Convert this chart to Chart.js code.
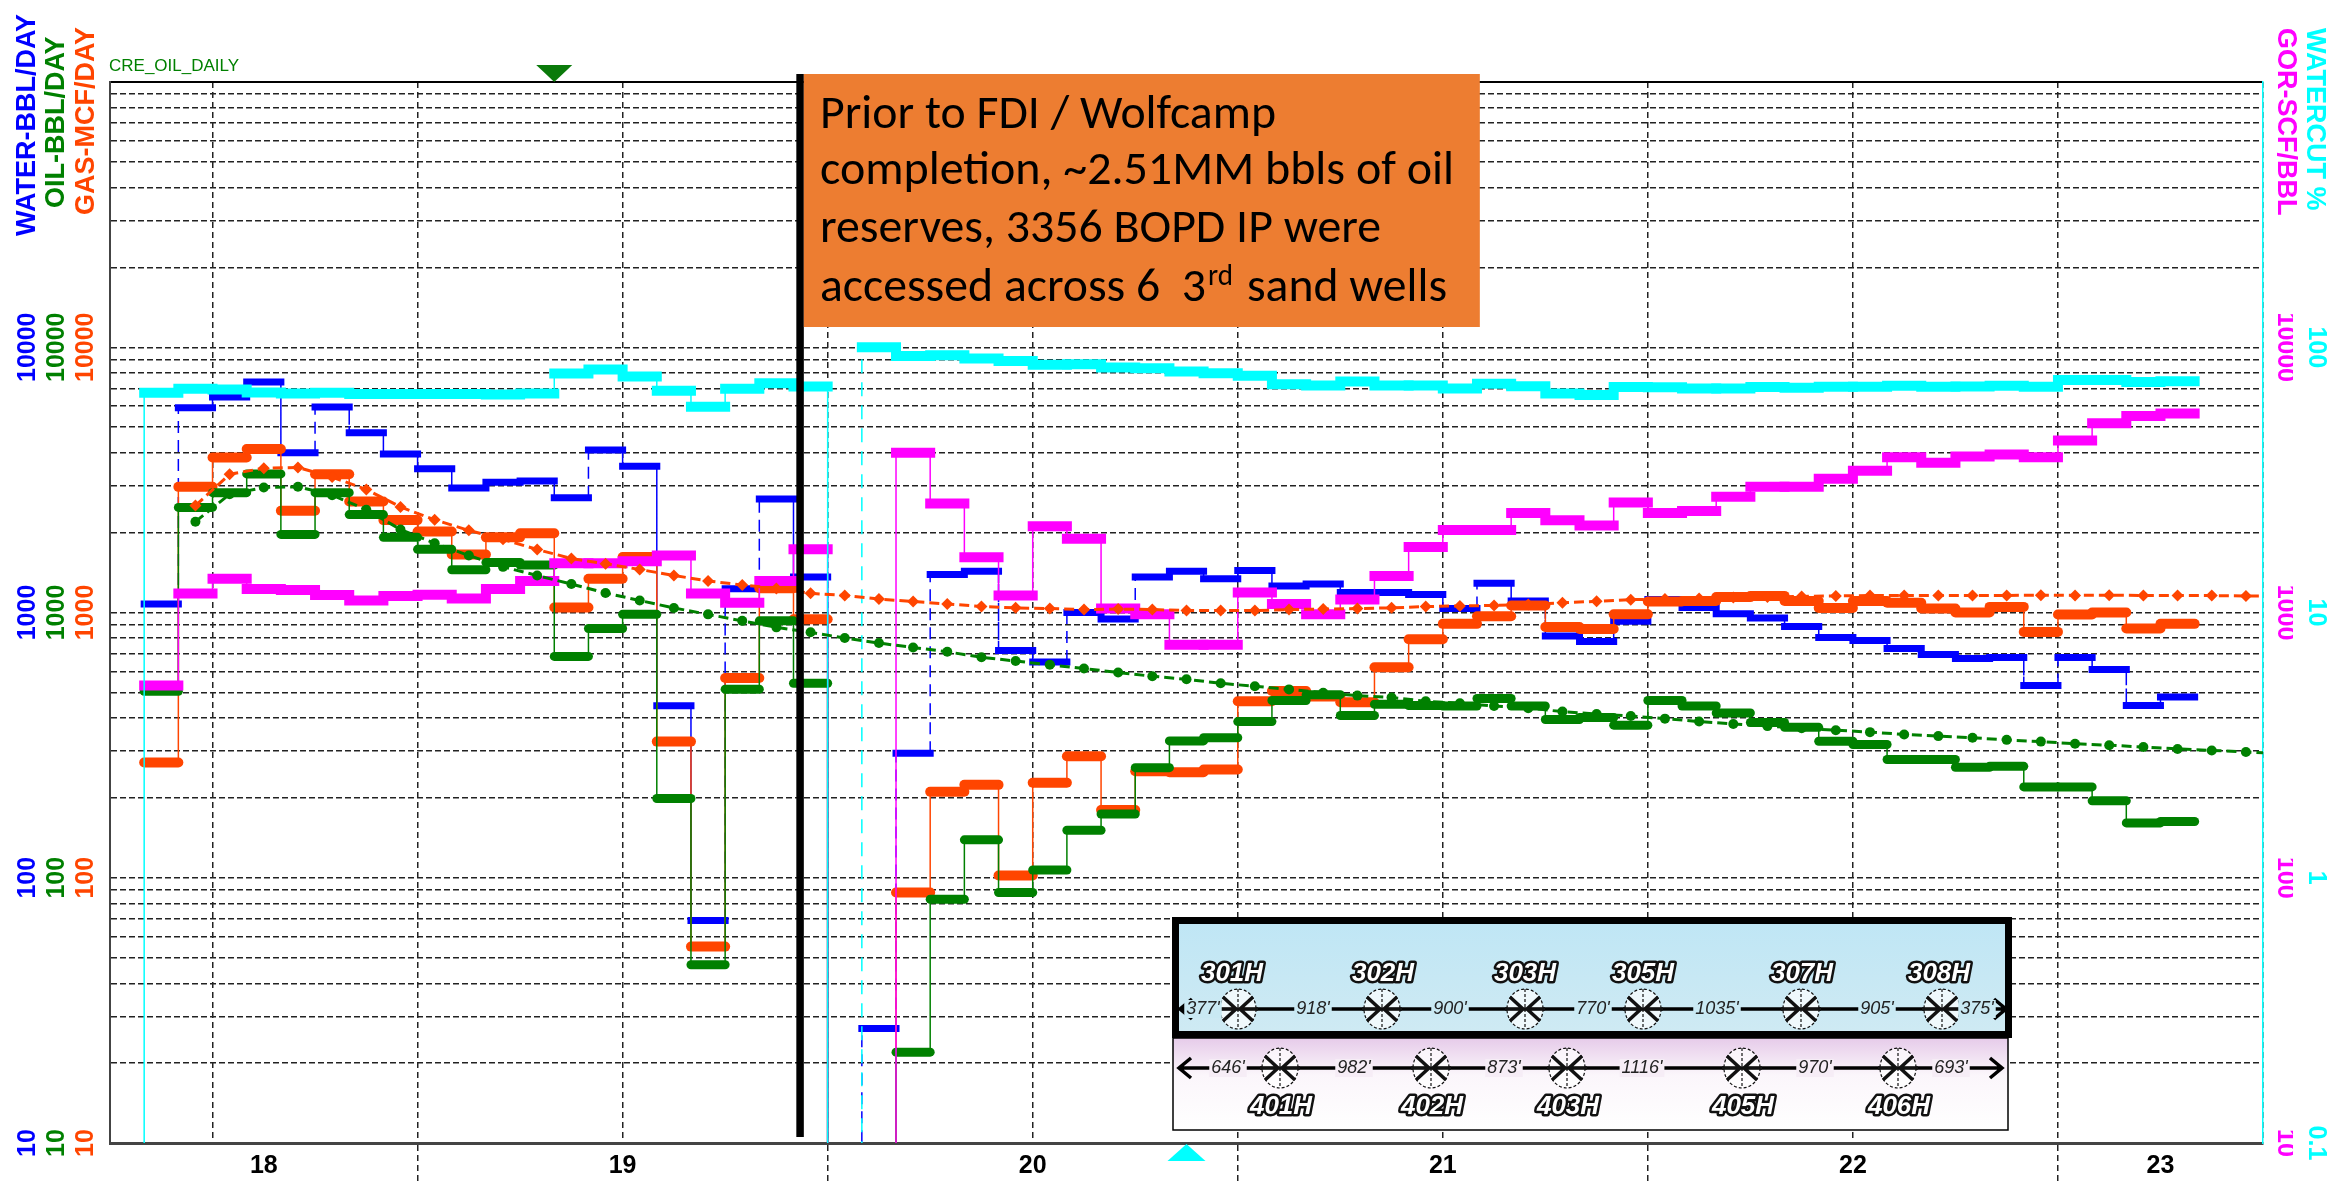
<!DOCTYPE html>
<html>
<head>
<meta charset="utf-8">
<style>
  html, body { margin: 0; padding: 0; background: #fff; }
  canvas { display: block; }
</style>
<script src="https://cdn.jsdelivr.net/npm/chart.js@4/dist/chart.umd.min.js"></script>
</head>
<body>
<canvas id="prodChart" width="2343" height="1182"></canvas>
<script>
// x is months since Jan 2018. BELOW = no production, off the bottom of the log axis
const BELOW = 1;
const BELOW_WC = 0.01;
const firstMonth = 4;

const water = [1076,5920,6490,7400,4000,5950,4760,3960,3480,2950,3100,3130,2710,4100,3560,445,69,1230,2680,1360,
  BELOW,27,295,1390,1430,719,650,1000,946,1360,1430,1340,1440,1260,1280,1190,1190,1170,1035,1290,
  1105,815,777,927,1120,1045,990,953,886,805,784,732,695,671,677,531,677,610,446,480];
const oil = [505,2490,2830,3330,1970,2830,2340,1920,1730,1450,1545,1510,683,870,984,199,47,514,930,541,
  BELOW,BELOW,22,83,139,88,107,151,174,260,328,337,388,466,490,409,451,446,444,474,
  444,395,402,376,466,444,418,385,369,327,318,279,279,261,263,220,220,195,161,163];
const gas = [272,2976,3840,4135,2420,3320,2620,2230,2020,1655,1920,1990,1045,1340,1620,326,55,566,1235,943,
  BELOW,BELOW,88,211,224,102,228,287,180,252,250,256,463,506,482,459,622,793,906,968,
  1063,882,867,984,1100,1105,1143,1155,1105,1040,1105,1088,1035,1000,1050,845,983,1000,870,906];
const gor = [531,1180,1340,1227,1215,1163,1110,1155,1167,1130,1227,1315,1535,1535,1562,1640,1180,1088,1315,1730,
  BELOW,BELOW,4000,2576,1615,1160,2113,1895,1035,984,755,755,1190,1077,984,1120,1373,1766,2045,2045,
  2374,2228,2128,2600,2374,2414,2730,2976,2976,3190,3420,3846,3670,3870,3945,3846,4450,5170,5500,5630];
// watercut starts one month earlier so its line rises from the bottom axis
const watercut = [BELOW_WC,67.4,69.7,69.3,67.5,66.9,67.4,66.7,66.7,66.7,66.7,66.3,66.9,79.6,82.4,77.6,68.5,59.6,69.7,73.2,71.1,
  BELOW_WC,100,92.7,93.3,90.7,88.8,85.9,86.2,83.9,83.4,81,79.8,78,72.5,71.8,74.3,71.8,71.8,69.9,72.8,
  71.3,66.9,66.1,70.8,70.6,69.9,69.9,70.8,70.4,71,71,71.6,71,71.2,71.6,71,75.2,75.2,74,74.5];

const fcastMonths = [5.5,6.5,7.5,8.5,9.5,10.5,11.5,12.5,13.5,14.5,15.5,16.5,17.5,18.5,19.5,20.5,21.5,22.5,23.5,24.5,
  25.5,26.5,27.5,28.5,29.5,30.5,31.5,32.5,33.5,34.5,35.5,36.5,37.5,38.5,39.5,40.5,41.5,42.5,43.5,44.5,
  45.5,46.5,47.5,48.5,49.5,50.5,51.5,52.5,53.5,54.5,55.5,56.5,57.5,58.5,59.5,60.5,61.5,62.5,63.5,64.5,65.5,66];
const gasFcast = [2530,3320,3500,3520,3240,2910,2500,2236,2040,1888,1728,1598,1526,1453,1379,1315,1270,1231,1181,1159,
  1124,1100,1077,1053,1041,1035,1026,1030,1026,1017,1017,1017,1026,1030,1035,1041,1053,1059,1063,1072,
  1088,1102,1118,1124,1130,1139,1143,1150,1155,1158,1160,1160,1160,1160,1162,1160,1162,1160,1160,1158,1155,1155];
const oilFcast = [2200,2790,2960,2980,2770,2440,2056,1825,1640,1486,1379,1280,1185,1110,1040,984,930,879,842,801,
  767,738,711,678,656,635,615,594,575,560,541,527,513,498,486,478,463,455,444,436,
  423,414,407,398,388,380,373,366,360,354,347,342,337,331,326,320,316,311,306,302,298,296];

const gridMonths = [6,12,18,24,30,36,42,48,54,60,66];
const yearEnds = [12,24,36,48,60];
const yearLabelMonths = [7.5,18,30,42,54,63];
const yearLabels = ['18','19','20','21','22','23'];
const yGridValues = [10,20,30,40,50,60,70,80,90,100,200,300,400,500,600,700,800,900,
  1000,2000,3000,4000,5000,6000,7000,8000,9000,10000,20000,30000,40000,50000,60000,70000,80000,90000,100000];
const rateTicks = [10,100,1000,10000];
const wcTicks = [0.1,1,10,100];

const completionMonth = 23.2;
const oilMarkerMonth = 16;
const waterMarkerMonth = 34.5;
const wcDashedRise = 25;

const BLUE = '#0000FF', GREEN = '#008000', ORANGE = '#FF4500', MAGENTA = '#FF00FF', CYAN = '#00FFFF';

function stepPoints(vals, start) {
  const pts = [];
  vals.forEach((v, i) => {
    pts.push({ x: start + i, y: v });
    pts.push({ x: start + i + 1, y: v });
  });
  return pts;
}

function stepSet(label, vals, start, axis, color, thick, cap, connectorDash, order) {
  return {
    label: label,
    data: stepPoints(vals, start),
    yAxisID: axis,
    borderColor: color,
    borderWidth: 1.5,
    pointRadius: 0,
    order: order,
    segment: {
      borderWidth: c => c.p0.parsed.x !== c.p1.parsed.x ? thick : 1.5,
      borderDash: c => c.p0.parsed.x !== c.p1.parsed.x ? [] : connectorDash(c),
      borderCapStyle: c => c.p0.parsed.x !== c.p1.parsed.x ? cap : 'butt'
    }
  };
}

function fcastSet(label, xs, vals, axis, color, style, radius, order) {
  return {
    label: label,
    data: xs.map((x, i) => ({ x: x, y: vals[i] })),
    yAxisID: axis,
    borderColor: color,
    backgroundColor: color,
    borderWidth: 3,
    borderDash: [10, 5],
    pointStyle: style,
    pointRadius: c => c.parsed.x === 66 ? 0 : radius,
    pointBorderWidth: 0,
    order: order
  };
}

function rateAxis(color, weight, width, padding, ticksList, min, max, rotation) {
  return {
    type: 'logarithmic',
    position: rotation < 0 ? 'right' : 'left',
    min: min,
    max: max,
    weight: weight,
    grid: { display: false, drawTicks: false },
    border: { display: false },
    afterBuildTicks: axis => { axis.ticks = ticksList.map(v => ({ value: v })); },
    afterFit: axis => { axis.width = width; },
    ticks: {
      autoSkip: false,
      color: color,
      font: { family: 'Liberation Sans', size: 25, weight: 'bold' },
      crossAlign: 'center',
      minRotation: rotation,
      maxRotation: rotation,
      padding: padding,
      callback: v => String(v)
    }
  };
}

// gas is the axis next to the plot, so it also carries the horizontal grid
const yGasAxis = rateAxis(ORANGE, 1, 43, -11, yGridValues, 10, 100000, 90);
yGasAxis.ticks.callback = v => rateTicks.includes(v) ? String(v) : '';
yGasAxis.grid = {
  display: true,
  drawTicks: false,
  color: c => c.tick.value === 100000 ? '#000' : '#222',
  lineWidth: c => c.tick.value === 10 ? 0 : (c.tick.value === 100000 ? 2 : 1.5)
};
yGasAxis.border = {
  display: true,
  color: '#444',
  width: 2,
  dash: c => (c.tick && c.tick.value === 100000) ? [] : [6, 3]
};

const yGorAxis = rateAxis(MAGENTA, 1, 30, -13, rateTicks, 10, 100000, -90);
yGorAxis.border = { display: true, color: CYAN, width: 1.5 };

function textAt(ctx, text, x, y, font, color, angle, align) {
  ctx.save();
  ctx.translate(x, y);
  if (angle) ctx.rotate(angle);
  ctx.font = font;
  ctx.fillStyle = color;
  ctx.textAlign = align || 'left';
  ctx.textBaseline = 'middle';
  ctx.fillText(text, 0, 0);
  ctx.restore();
}

function drawWell(ctx, cx, cy) {
  ctx.save();
  ctx.fillStyle = 'rgba(255,255,255,0.7)';
  ctx.strokeStyle = '#111';
  ctx.lineWidth = 1.2;
  ctx.setLineDash([3, 2]);
  ctx.beginPath();
  ctx.ellipse(cx, cy, 18, 20, 0, 0, Math.PI * 2);
  ctx.fill();
  ctx.stroke();
  ctx.beginPath();
  ctx.moveTo(cx, cy - 20);
  ctx.lineTo(cx, cy + 20);
  ctx.stroke();
  ctx.setLineDash([]);
  ctx.lineWidth = 3.5;
  ctx.beginPath();
  ctx.moveTo(cx - 15, cy - 12); ctx.lineTo(cx - 2, cy); ctx.lineTo(cx - 15, cy + 12);
  ctx.moveTo(cx + 15, cy - 12); ctx.lineTo(cx + 2, cy); ctx.lineTo(cx + 15, cy + 12);
  ctx.moveTo(cx - 20, cy); ctx.lineTo(cx + 20, cy);
  ctx.stroke();
  ctx.restore();
}

function drawWellRow(ctx, y, x0, x1, wells, dists, bg) {
  ctx.save();
  ctx.strokeStyle = '#000';
  ctx.lineWidth = 3.5;
  ctx.beginPath();
  ctx.moveTo(x0, y); ctx.lineTo(x1, y);
  ctx.moveTo(x0 + 12, y - 10); ctx.lineTo(x0, y); ctx.lineTo(x0 + 12, y + 10);
  ctx.moveTo(x1 - 12, y - 10); ctx.lineTo(x1, y); ctx.lineTo(x1 - 12, y + 10);
  ctx.stroke();
  wells.forEach(w => drawWell(ctx, w, y));
  ctx.font = 'italic 18px "Liberation Sans Narrow", "Liberation Sans"';
  ctx.textAlign = 'center';
  ctx.textBaseline = 'middle';
  dists.forEach(d => {
    const w = ctx.measureText(d[0]).width + 4;
    ctx.fillStyle = bg;
    ctx.fillRect(d[1] - w / 2, y - 9, w, 18);
    ctx.fillStyle = '#222';
    ctx.fillText(d[0], d[1], y);
  });
  ctx.restore();
}

function wellName(ctx, text, x, y) {
  ctx.save();
  ctx.font = 'italic bold 26px "Liberation Sans"';
  ctx.textAlign = 'center';
  ctx.textBaseline = 'middle';
  ctx.lineJoin = 'round';
  ctx.strokeStyle = '#111';
  ctx.lineWidth = 5;
  ctx.strokeText(text, x, y);
  ctx.fillStyle = '#fff';
  ctx.fillText(text, x, y);
  ctx.restore();
}

const overlays = {
  id: 'overlays',
  afterDraw(chart) {
    const ctx = chart.ctx;
    const xs = chart.scales.x;

    // rotated left and right axis titles
    const boldTitle = 'bold 27px "Liberation Sans"';
    textAt(ctx, 'WATER-BBL/DAY', 28, 236, boldTitle, BLUE, -Math.PI / 2);
    textAt(ctx, 'OIL-BBL/DAY', 57, 208, boldTitle, GREEN, -Math.PI / 2);
    textAt(ctx, 'GAS-MCF/DAY', 87, 215, boldTitle, ORANGE, -Math.PI / 2);
    textAt(ctx, 'GOR-SCF/BBL', 2285, 28, boldTitle, MAGENTA, Math.PI / 2);
    textAt(ctx, 'WATERCUT %', 2314, 28, boldTitle, CYAN, Math.PI / 2);
    textAt(ctx, 'CRE_OIL_DAILY', 109, 66, '17px "Liberation Sans Narrow", "Liberation Sans"', GREEN);

    // markers above and below the plot
    const mx = xs.getPixelForValue(oilMarkerMonth);
    ctx.fillStyle = '#0A7A0A';
    ctx.beginPath();
    ctx.moveTo(mx - 18, 65); ctx.lineTo(mx + 18, 65); ctx.lineTo(mx, 82);
    ctx.closePath();
    ctx.fill();
    const cx = xs.getPixelForValue(waterMarkerMonth);
    ctx.fillStyle = CYAN;
    ctx.beginPath();
    ctx.moveTo(cx - 19, 1161); ctx.lineTo(cx + 19, 1161); ctx.lineTo(cx, 1144);
    ctx.closePath();
    ctx.fill();

    // completion line and note
    const lx = xs.getPixelForValue(completionMonth);
    ctx.fillStyle = '#000';
    ctx.fillRect(lx - 4, 74, 7.5, 1063);
    ctx.fillStyle = '#ED7D31';
    ctx.fillRect(lx + 3.5, 74, 676, 253);
    ctx.fillStyle = '#000';
    ctx.textAlign = 'left';
    ctx.textBaseline = 'alphabetic';
    ctx.font = '48px Carlito, Lato';
    ctx.fillText('Prior to FDI / Wolfcamp', 820, 128, 456);
    ctx.fillText('completion, ~2.51MM bbls of oil', 820, 184, 634);
    ctx.fillText('reserves, 3356 BOPD IP were', 820, 242, 561);
    ctx.fillText('accessed across 6  3', 820, 301, 386);
    ctx.fillText('sand wells', 1247, 301, 200);
    ctx.font = '30px Carlito, Lato';
    ctx.fillText('rd', 1208, 285, 25);

    // well spacing inset
    const topFill = ctx.createLinearGradient(0, 920, 0, 1035);
    topFill.addColorStop(0, '#BFE6F5');
    topFill.addColorStop(1, '#CFEAF3');
    ctx.fillStyle = topFill;
    ctx.fillRect(1172, 917, 840, 121);
    const lowFill = ctx.createLinearGradient(0, 1038, 0, 1130);
    lowFill.addColorStop(0, '#E6CBE9');
    lowFill.addColorStop(0.4, '#FBF6FB');
    lowFill.addColorStop(1, '#FFFFFF');
    ctx.fillStyle = lowFill;
    ctx.fillRect(1173, 1038, 835, 92);
    ctx.strokeStyle = '#000';
    ctx.lineWidth = 1.5;
    ctx.strokeRect(1173, 1038, 835, 92);

    drawWellRow(ctx, 1009, 1180, 2006, [1238, 1382, 1525, 1643, 1801, 1942],
      [["377'", 1203], ["918'", 1313], ["900'", 1450], ["770'", 1593], ["1035'", 1717], ["905'", 1877], ["375'", 1977]], '#C9E9F3');
    drawWellRow(ctx, 1068, 1179, 2002, [1280, 1431, 1567, 1742, 1898],
      [["646'", 1228], ["982'", 1354], ["873'", 1504], ["1116'", 1642], ["970'", 1815], ["693'", 1951]], '#F6EDF6');

    ctx.strokeStyle = '#000';
    ctx.lineWidth = 7;
    ctx.strokeRect(1175.5, 920.5, 833, 114);

    [['301H', 1232], ['302H', 1383], ['303H', 1525], ['305H', 1643], ['307H', 1802], ['308H', 1939]]
      .forEach(w => wellName(ctx, w[0], w[1], 974));
    [['401H', 1281], ['402H', 1432], ['403H', 1568], ['405H', 1743], ['406H', 1899]]
      .forEach(w => wellName(ctx, w[0], w[1], 1107));
  }
};

const solid = () => [];

new Chart(document.getElementById('prodChart'), {
  type: 'line',
  plugins: [overlays],
  data: {
    datasets: [
      fcastSet('Gas forecast', fcastMonths, gasFcast, 'yGas', ORANGE, 'rectRot', 6, 1),
      fcastSet('Oil forecast', fcastMonths, oilFcast, 'yOil', GREEN, 'circle', 5, 2),
      stepSet('Watercut', watercut, firstMonth - 1, 'yWc', CYAN, 10, 'square',
        c => c.p0.parsed.x === wcDashedRise ? [14, 9] : [], 3),
      stepSet('GOR', gor, firstMonth, 'yGor', MAGENTA, 10, 'square', solid, 4),
      stepSet('Oil', oil, firstMonth, 'yOil', GREEN, 9, 'round', solid, 5),
      stepSet('Gas', gas, firstMonth, 'yGas', ORANGE, 10, 'round', solid, 6),
      stepSet('Water', water, firstMonth, 'yWater', BLUE, 7, 'square', () => [12, 7], 7)
    ]
  },
  options: {
    responsive: false,
    animation: false,
    parsing: { xAxisKey: 'x', yAxisKey: 'y' },
    layout: { padding: { top: 82, right: 0, bottom: 0, left: 0 } },
    plugins: { legend: { display: false }, tooltip: { enabled: false } },
    scales: {
      x: {
        type: 'linear',
        min: 3,
        max: 66,
        afterBuildTicks: axis => {
          const vals = gridMonths.concat(yearLabelMonths.filter(m => !gridMonths.includes(m))).sort((a, b) => a - b);
          axis.ticks = vals.map(v => ({ value: v }));
        },
        afterFit: axis => { axis.height = 39; },
        grid: {
          color: c => gridMonths.includes(c.tick.value) ? '#222' : 'rgba(0,0,0,0)',
          lineWidth: 1.5,
          tickLength: 39,
          tickWidth: 1.5,
          tickBorderDash: [6, 4],
          tickColor: c => yearEnds.includes(c.tick.value) ? '#222' : 'rgba(0,0,0,0)'
        },
        border: { display: true, color: '#444', width: 3, dash: [6, 4] },
        ticks: {
          autoSkip: false,
          maxRotation: 0,
          minRotation: 0,
          padding: -31,
          color: '#000',
          font: { family: '"Liberation Sans Narrow", "Liberation Sans"', size: 25, weight: 'bold' },
          callback: v => {
            const i = yearLabelMonths.indexOf(v);
            return i < 0 ? '' : yearLabels[i];
          }
        }
      },
      yGas: yGasAxis,
      yOil: rateAxis(GREEN, 2, 29, -25, rateTicks, 10, 100000, 90),
      yWater: rateAxis(BLUE, 3, 38, -25, rateTicks, 10, 100000, 90),
      yGor: yGorAxis,
      yWc: rateAxis(CYAN, 2, 50, 2, wcTicks, 0.1, 1000, -90)
    }
  }
});
</script>
</body>
</html>
